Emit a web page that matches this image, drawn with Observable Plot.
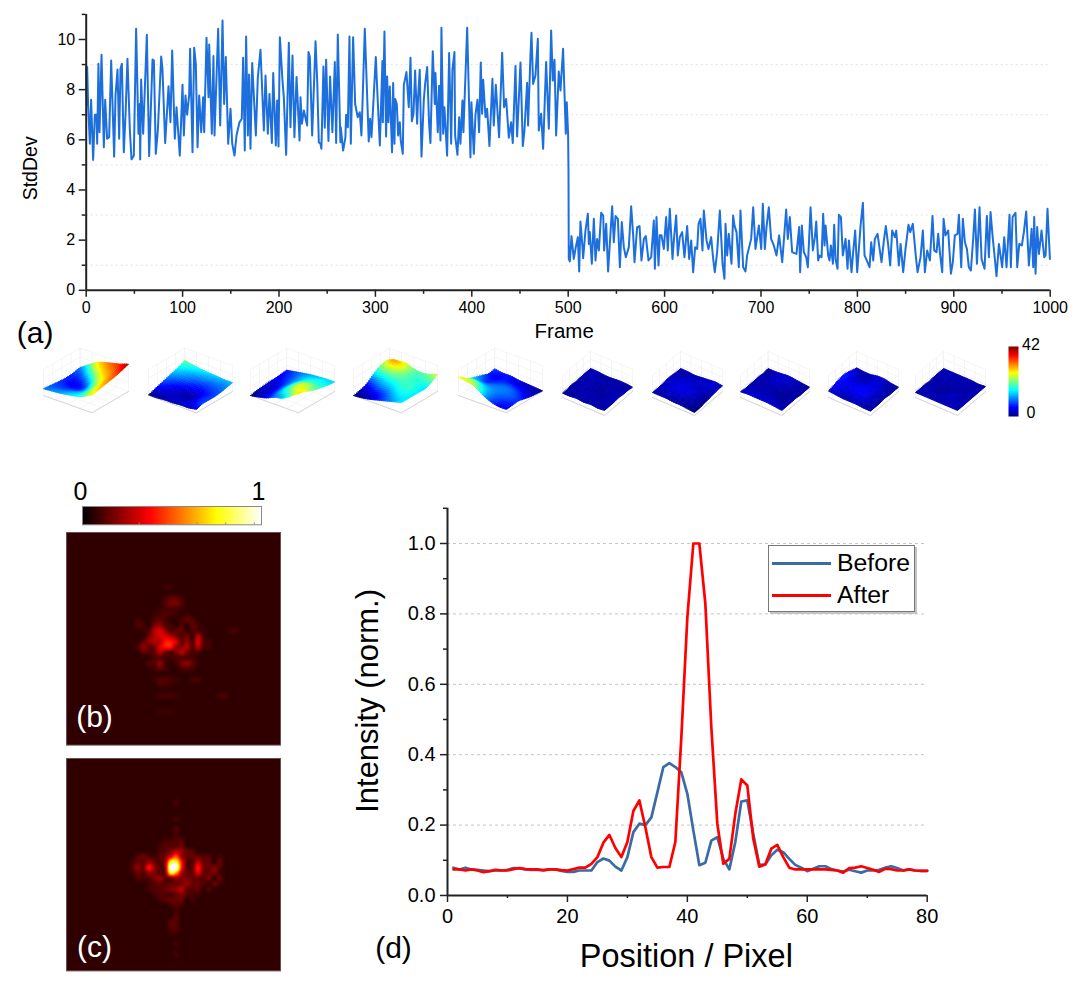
<!DOCTYPE html>
<html><head><meta charset="utf-8">
<script src="https://cdn.jsdelivr.net/npm/d3@7"></script>
<script src="https://cdn.jsdelivr.net/npm/@observablehq/plot@0.6"></script>
<style>
html,body{margin:0;padding:0;background:#fff;}
#page{position:relative;width:1080px;height:992px;overflow:hidden;font-family:"Liberation Sans",Arial,sans-serif;}
#page>svg,#page>div{position:absolute;}
svg{background:transparent !important;}
</style></head><body><div id="page"></div>
<script>
// ---------- panel (a): readings of the StdDev trace ----------
const frames = [0,0.7,1,2,3.8,5.1,7.2,9,10.7,11.4,12.7,13.8,15.9,18.3,19.7,21.7,23.8,25.9,29,30.4,32.5,34.2,35.6,37,39,40.8,42.8,45.3,47,49.4,51.8,54.2,55.6,56,57,59.1,62.9,65.3,66.7,68.8,70.2,72.2,74.3,77.8,79.1,81.9,85.4,87.4,89.2,91.9,93.7,97.1,99.9,101.3,103,104.7,106.8,107.8,110.3,112,113.7,115.5,117.2,119.3,121.3,122.4,124.8,126.9,127.6,130.3,132,133.1,136.9,139,141.4,143.1,144.8,147.3,149.7,151.4,153.8,155.9,159,161.4,162.8,164.5,165.9,167.7,169,170.4,172.2,176,178,180.8,184.3,186,188.4,190.1,192.6,194,196.7,198.1,199.5,200.9,203.6,205,207.4,210.2,211.9,214,216,218.2,221.3,222.3,223.7,225.8,229.2,230.6,232,234.4,237.9,239.6,241.3,
243,244,246.1,247.5,248.9,251.3,253,255.4,257.9,259.3,261,263.7,264.1,266.5,268.9,269.6,271.4,273.1,274.5,276.9,279,281.7,283.8,285.5,286.6,289,293.1,294.5,295.9,297.3,300.4,302.5,304.6,307.3,307.7,309.4,311.1,312.2,313.5,314.9,317.3,318.4,319.8,320.5,322.2,323.6,325.3,326.3,328.4,329.5,332.2,334.6,336.4,337.8,339.5,341.2,343.3,344.3,346,347.8,350.2,351.6,353.7,355.7,357.1,359.5,361.6,362.3,364.7,366.1,367.5,368.5,370.3,371.6,374.4,376.5,378.6,379.9,382,382.7,385.1,386.9,388.2,390.3,391.3,395.2,398.6,399.6,402.1,403.8,405.9,407.6,409.3,410.7,411.8,414.2,415.9,418.3,421.4,422.8,424.9,428.3,431.5,433.5,435.6,438.4,440.8,442.5,445.3,447,450.5,452.9,454.6,457.4,458.4,460.9,461.9,463.6,466,468.5,469.5,471.9,474,477.1,479.9,482.3,484,485.8,487.5,490.2,492,494.7,497.5,498.5,499.9,500.3,
500.6,501.7,503.4,505.8,507.9,510,511.4,512.7,514.8,515.5,517.9,520.4,521.4,522.4,524.5,526.6,528.3,530,531.8,534.2,536.3,537.3,539.4,541.4,545.6,547.3,549.1,551.5,553.6,555.6,557.7,559.8,562.9,565.3,567.4,568.8,571.5,574,576,578.5,580.5,583.3,586.1,588.8,589.9,591.6,593.7,595,596.8,599.2,601.6,603.3,605.4,608.2,609.6,612,613.7,615.8,618.2,620.6,623.4,625.5,627.6,629.6,631.7,633.8,635.2,637.2,639.3,640.7,643.5,645.5,648.3,650.4,652.1,654.5,657.3,660.1,662.1,663.2,664.9,666.6,669.4,671.1,672.5,674.6,677,678.7,681.5,683.9,685.6,689.8,691.9,694.3,697.8,700.2,701.9,704,705.7,708.1,710.5,713.3,716.1,718.8,722,723.7,726.1,727.8,729.9,732.3,736.8,739.6,740.6,742.4,744.4,746.9,748.6,
751.4,753.8,755.9,757.3,759.3,760.7,762.8,764.5,765.9,767,769.7,771.1,772.5,774.6,775.9,777.3,779.4,780.8,782.9,784.9,787.7,789.8,791.2,793.9,795.6,797.7,799.8,803.3,805.7,807.4,810.5,812.6,814.3,816.4,818.1,820.9,825,827.5,829.5,832,834,836.1,838.9,840.3,843,844.8,847.5,849.9,853,854.8,857.5,860.7,862.4,865.5,867.9,870,872.4,875.2,877.9,879.7,882.1,883.8,885.9,888,889.4,891.4,894.2,897,899,901.1,903.9,905.3,907.7,909.4,911.5,913.6,915.6,917.7,920.1,921.9,924,926.7,928.8,931.9,934.3,936.4,938.1,940.5,941.9,944.3,946.8,950.2,952.3,954.7,957.8,959.2,961,964,965.8,967.9,970.6,972.7,975.1,977.9,980.7,982.4,983.4,984.8,986.5,988.3,991,993.8,995.2,997.2,999.7];
const stdDev = [8.9,7.4,8.9,7.4,5.84,7.6,5.2,7.0,7.0,5.84,9.03,6.3,9.39,5.7,7.6,6.04,6.1,9.16,5.33,7.77,8.8,6.04,8.83,9.03,5.5,7.0,9.23,6.37,5.22,5.37,10.43,6.24,7.43,5.22,8.4,6.24,10.19,5.35,6.84,9.2,9.16,5.44,6.37,9.32,8.83,5.87,8.14,6.7,9.56,6.04,7.3,5.37,8.2,6.17,7.77,7.0,7.77,9.63,5.5,9.67,9.03,5.7,7.77,6.3,7.7,6.3,10.07,7.7,9.8,6.24,9.34,6.17,10.43,6.57,10.76,7.43,9.3,5.84,7.24,5.87,5.37,6.17,6.7,6.84,9.27,5.57,10.12,6.17,8.6,5.64,9.06,6.17,8.47,9.59,6.37,8.56,6.24,7.83,5.87,8.66,5.77,7.57,5.73,10.09,8.37,7.7,5.4,9.87,6.5,9.36,6.1,8.5,5.97,7.7,6.64,7.17,6.57,9.5,9.3,6.17,9.93,8.37,5.9,
5.84,5.64,8.92,6.48,9.19,5.95,8.52,6.3,9.1,5.87,10.2,5.9,6.5,5.57,6.1,7.0,6.5,10.12,5.84,10.09,7.43,6.9,7.1,6.17,7.43,10.43,5.93,6.84,6.1,7.04,9.3,7.5,5.77,9.14,6.7,10.32,6.13,8.52,6.7,8.13,5.5,8.26,5.84,7.63,7.43,6.17,6.7,5.97,5.44,8.19,8.7,7.3,9.27,6.74,7.04,8.76,6.64,7.7,8.79,5.33,7.57,8.23,8.9,6.64,5.87,9.53,7.43,8.66,6.3,8.16,5.97,10.47,6.24,7.3,5.37,9.46,5.84,8.79,9.5,6.17,5.4,6.9,5.84,7.57,6.3,10.47,5.3,7.5,5.44,7.0,7.6,6.3,9.08,7.04,8.39,6.9,7.24,5.75,8.43,6.57,8.2,6.1,9.47,7.3,7.63,6.08,6.7,5.87,8.94,6.13,9.08,5.75,6.37,8.27,6.57,9.43,10.27,8.23,8.56,10.03,6.37,7.04,5.64,9.1,6.44,10.36,8.36,9.19,6.17,8.72,7.97,9.63,6.24,7.5,6.24,4.77,
1.25,1.15,2.16,1.25,1.72,2.12,0.75,2.74,1.72,1.28,2.38,3.05,1.85,2.32,1.06,2.85,1.19,2.05,1.59,3.09,2.98,1.59,2.65,0.75,3.35,1.92,2.96,2.85,0.92,2.72,1.72,1.32,1.72,3.35,2.19,1.12,2.52,2.56,1.19,2.05,2.16,1.19,1.32,2.78,0.86,2.92,0.99,2.19,2.19,1.65,2.92,1.59,3.25,1.25,1.99,2.98,1.39,2.12,2.32,1.32,2.56,1.25,1.99,0.72,1.72,1.65,2.65,2.85,1.59,3.18,1.99,1.65,2.12,1.25,0.72,1.52,3.18,1.06,0.46,2.65,1.39,2.25,1.06,2.98,2.58,2.32,0.92,3.18,0.92,0.75,1.39,2.05,3.31,1.65,2.58,1.65,3.45,1.65,2.52,3.31,2.05,1.79,1.39,2.19,1.12,1.99,3.22,2.05,2.92,1.52,1.45,2.52,0.72,2.58,1.52,1.32,0.92,
3.31,1.59,2.12,2.74,1.19,1.39,1.32,3.05,1.79,2.58,1.39,1.19,1.79,1.06,2.61,1.25,0.86,3.01,2.92,1.39,2.05,0.86,1.99,0.72,1.52,2.38,0.72,2.58,3.49,1.39,1.12,0.92,1.92,1.19,2.05,2.25,1.12,1.99,2.56,1.79,0.99,2.38,2.12,2.38,0.99,1.85,0.72,1.65,2.61,2.32,2.65,1.32,0.72,1.32,2.38,0.72,1.59,1.19,2.96,1.59,1.52,2.25,1.39,0.72,2.85,2.19,2.38,0.66,1.12,2.19,2.25,3.01,0.92,2.85,1.92,1.65,0.92,0.79,2.05,3.22,1.06,3.31,1.25,0.86,2.96,1.32,3.12,2.05,1.52,0.56,1.85,0.92,2.12,0.92,3.01,0.92,2.92,3.09,0.92,1.85,1.79,2.32,3.14,0.99,2.45,0.92,2.92,0.66,2.52,1.45,2.38,1.32,1.39,3.25,1.25];
const aMajorX = [0,100,200,300,400,500,600,700,800,900,1000];
const aMinorX = [50,150,250,350,450,550,650,750,850,950];
const aMajorY = [0,2,4,6,8,10];
const aMinorY = [1,3,5,7,9,11];
const aGrid = [1,3,5,7,9];

// ---------- panel (d): line profiles, positions 1..80 ----------
const position = d3.range(1,81);
const before = [.079,.074,.079,.074,.073,.071,.069,.071,.071,.073,.078,.077,.074,.073,.073,.073,.074,.074,.07,.067,.067,.071,.071,.071,.095,.105,.099,.082,.071,.109,.18,.204,.2,.222,.293,.365,.376,.365,.35,.289,.185,.086,.093,.156,.166,.104,.074,.152,.267,.27,.175,.087,.088,.114,.13,.123,.104,.087,.079,.069,.076,.083,.083,.075,.071,.068,.073,.069,.065,.071,.071,.073,.079,.083,.078,.071,.074,.071,.07,.07];
const after = [.074,.074,.071,.074,.071,.066,.069,.073,.071,.071,.075,.078,.075,.074,.074,.071,.074,.074,.072,.071,.075,.079,.079,.09,.109,.15,.172,.135,.109,.152,.24,.27,.194,.109,.079,.081,.081,.152,.45,.79,1,1,.83,.478,.204,.09,.104,.232,.33,.3125,.161,.082,.088,.133,.144,.109,.079,.074,.074,.074,.074,.074,.074,.073,.071,.065,.078,.079,.083,.078,.073,.067,.076,.075,.071,.071,.074,.071,.07,.07];
const dMajorX = [0,20,40,60,80];
const dMinorX = [10,30,50,70];
const dMajorY = [0,.2,.4,.6,.8,1];
const dMinorY = [.1,.3,.5,.7,.9,1.1];

// ---------- panels (b),(c): intensity maps, one char per cell of a 40x40 grid ----------
const heatLevels = {".":.07,"1":.1,"2":.125,"3":.15,"4":.18,"5":.22,"6":.27,"7":.33,"8":.4,"9":.5,"a":.62,"b":.78,"c":1};
const levelsB = {".":.07,"1":.09,"2":.105,"3":.12,"4":.14,"5":.17,"6":.21,"7":.26,"8":.32,"9":.4};
const mapB = {
10:"..................11",
12:"..................2442",
13:"..................3553",
14:".................12221",
15:"................12321.1",
16:".............2..342..243",
17:".............32.5632.3.42",
18:"..............13786344.321....22",
19:"...............57887535.72",
20:"..............4677998463832",
21:".............36458996673722",
22:"..............43475357523",
23:"................33122322",
24:"...............3362.25641",
25:"................242..232",
27:"................13321..22",
28:".................221",
30:".................2221.......22",
33:".................111"};
const mapC = {
8:"....................1",
11:"....................1",
13:"....................2",
14:"....................1",
15:"..................1122",
16:".................12223",
17:".................1246532",
18:".............23212479533322.1",
19:"............1325325bb822633.3",
20:"............2538525cc82384342",
21:"............1325424ba63373341",
22:".............21245235443324.3",
23:"...............12323345332.31",
24:"...............1223456323.2",
25:"................122134211",
26:".................12333.1",
27:"...................121",
28:"....................1",
29:"....................2",
30:"...................22",
31:"...................22",
32:"...................11",
34:"....................1",
36:"....................1"};
const hotStops = [0,.375,.75,1];
const hotColors = ["#000000","#ff0000","#ffff00","#ffffff"];
const barMarks = [.317,.478,.64,.8,.96];

// ---------- panel (a) insets: wavefront heights on 7x7 tables (0..42) ----------
const jet = ["#00007f","#0000ff","#007fff","#00ffff","#7fff7f","#ffff00","#ff7f00","#ff0000","#7f0000"];
const surf1 = [[10,9,8,7,7,8,10],[11,9,7,5,6,10,18],[12,10,7,5,9,19,26],[14,12,9,9,18,26,30],[16,15,15,20,26,30,33],[20,22,24,27,30,33,36],[26,28,30,32,34,37,40]];
const surf2 = [[1,4,7,10,13,16,20],[1,3,5,7,11,14,18],[2,3,3,5,9,12,16],[2,3,2,4,7,11,15],[3,3,2,4,7,10,14],[3,5,6,6,8,10,13],[5,8,8,8,9,11,13]];
const surf3 = [[0,2,3,4,4,5,6],[2,3,3,4,6,7,8],[5,6,7,8,9,10,10],[10,13,14,14,13,13,12],[13,19,21,20,17,15,13],[20,25,25,22,18,16,14],[28,26,22,19,17,15,14]];
const surf4 = [[0,2,5,12,19,22,22],[1,3,8,14,22,30,24],[3,5,11,16,22,28,25],[6,8,13,17,20,21,21],[9,12,16,18,18,18,19],[12,15,17,18,17,18,21],[15,15,15,15,15,19,25]];
const surf5 = [[27,20,15,12,9,6,8],[25,22,14,8,6,5,6],[22,17,12,9,7,6,6],[14,12,11,10,8,5,4],[8,9,10,10,7,4,3],[5,7,9,8,5,3,2],[5,6,7,5,3,2,1]];
const surf6 = [[2,2,3,2,3,3,3],[2,2,3,3,3,4,3],[3,3,3,3,3,3,2],[2,3,3,2,2,3,2],[3,3,2,2,3,3,3],[2,3,3,3,3,2,3],[3,3,3,4,3,3,2]];
const surf7 = [[3,3,3,4,4,3,3],[3,4,5,5,4,3,3],[3,4,6,6,5,4,2],[2,4,6,6,5,4,3],[2,3,5,5,4,5,4],[1,2,3,3,4,5,5],[0,0,1,2,3,4,4]];
const surf8 = [[4,3,3,3,3,2,3],[5,4,3,3,3,3,3],[5,4,3,3,4,5,4],[5,4,3,3,4,5,5],[5,4,2,2,3,4,4],[4,3,2,2,2,3,3],[3,3,3,3,2,2,2]];
const surf9 = [[5,7,9,10,9,6,4],[4,6,7,7,5,4,3],[3,5,7,6,4,3,3],[3,6,8,7,5,5,5],[3,6,7,7,6,5,5],[2,4,4,4,4,3,3],[2,2,2,3,2,2,2]];
const surf10 = [[3,3,3,2,3,3,3],[3,3,3,3,3,4,3],[3,3,2,2,3,3,3],[3,3,3,2,3,3,3],[3,4,4,3,2,3,3],[3,4,3,3,3,3,2],[3,3,3,3,3,3,3]];
const insets = [
  {t:surf1,left:43,w:85,big:true},{t:surf2,left:148,w:84,big:true},{t:surf3,left:250,w:84,big:true},
  {t:surf4,left:353,w:84,big:true},{t:surf5,left:458,w:84,big:true},
  {t:surf6,left:562,w:70},{t:surf7,left:652,w:70},{t:surf8,left:740,w:69},{t:surf9,left:828,w:70},{t:surf10,left:915,w:70}];

// ---------- helpers ----------
const FONT = '"Liberation Sans",Arial,sans-serif';
const INK = "#222";
const page = document.getElementById("page");
function place(el,left,top){el.style.position="absolute";el.style.left=left+"px";el.style.top=top+"px";page.appendChild(el);return el;}
const base = {style:{fontFamily:FONT,background:"transparent",overflow:"visible"}};

// ---------- panel (a) ----------
place(Plot.plot({...base,width:1080,height:345,marginLeft:85.7,marginRight:30.3,marginTop:13.9,marginBottom:55.2,
  x:{domain:[0,1000]},y:{domain:[0,11]},
  marks:[
    Plot.ruleY(aGrid,{stroke:"#dcdcdc",strokeDasharray:"2 3",strokeWidth:.8}),
    Plot.line(frames.map((f,i)=>({f,v:stdDev[i]})),{x:"f",y:"v",stroke:"#1c6fdc",strokeWidth:2}),
    Plot.axisX({ticks:aMinorX,tickSize:4,text:null,label:null,stroke:INK,strokeWidth:1.5}),
    Plot.axisX({ticks:aMajorX,tickSize:7,tickPadding:4,label:null,fontSize:16,tickFormat:"d",stroke:INK,fill:"#000",strokeWidth:1.5}),
    Plot.axisY({ticks:aMinorY,tickSize:4,text:null,label:null,stroke:INK,strokeWidth:1.5}),
    Plot.axisY({ticks:aMajorY,tickSize:7,tickPadding:4,label:null,fontSize:16,tickFormat:"d",stroke:INK,fill:"#000",strokeWidth:1.5}),
    Plot.ruleX([0],{stroke:INK,strokeWidth:2}),
    Plot.ruleY([0],{stroke:INK,strokeWidth:2}),
    Plot.text(["StdDev"],{frameAnchor:"left",dx:-55,dy:16,rotate:-90,textAnchor:"middle",fontSize:19.5,fill:"#000"}),
    Plot.text(["Frame"],{frameAnchor:"bottom",dx:-4,dy:48,fontSize:20.5,fill:"#000"}),
    Plot.text(["(a)"],{frameAnchor:"bottom-left",dx:-51,dy:53,fontSize:30,fill:"#000",textAnchor:"middle"})
  ]}),0,0);

// ---------- surface insets ----------
function catmull(a,b,c,d,t){return .5*((2*b)+(-a+c)*t+(2*a-5*b+4*c-d)*t*t+(-a+3*b-3*c+d)*t*t*t);}
function sample(tb,u,v){
  const n=tb.length-1, U=Math.min(u*n,n-1e-6), V=Math.min(v*n,n-1e-6), ui=Math.floor(U), vi=Math.floor(V), cl=i=>Math.max(0,Math.min(n,i));
  const col=[];
  for(let k=-1;k<=2;k++){const r=tb[cl(ui+k)];col.push(catmull(r[cl(vi-1)],r[vi],r[cl(vi+1)],r[cl(vi+2)],V-vi));}
  return catmull(col[0],col[1],col[2],col[3],U-ui);
}
const SUB=24;
insets.forEach(ins=>{
  const g = ins.big ? {bx:.57,tx:.43,by:17.3,ty:-21.3,y0:60,lift:0,wall:26,tint:1} : {bx:.6,tx:.4,by:18,ty:-24,y0:62,lift:3,wall:22,tint:.65};
  const kz=.68;
  const proj=(u,v,z)=>({x:u*g.bx+v*g.tx,y:g.y0+u*g.by+v*g.ty-z*kz-g.lift});
  const cells=[];
  for(let a=0;a<SUB;a++)for(let b=0;b<SUB;b++)cells.push([a,b]);
  cells.sort((p,q)=>(p[0]*g.by+p[1]*g.ty)-(q[0]*g.by+q[1]*g.ty));
  const quads=[];
  cells.forEach(([a,b],q)=>{
    const pts=[[a,b],[a+1,b],[a+1,b+1],[a,b+1]].map(([i,j])=>{const u=i/SUB,v=j/SUB;const z=sample(ins.t,u,v);return {...proj(u,v,z),z};});
    const val=d3.mean(pts,d=>d.z)*g.tint;
    pts.forEach(p=>quads.push({q,x:p.x,y:p.y,val:Math.max(0,val)}));
  });
  const fl=(u,v,h=0)=>({x:u*g.bx+v*g.tx,y:g.y0+u*g.by+v*g.ty-h});
  const segs=[];let s=0;
  const seg=(a,b)=>{segs.push({s,...a});segs.push({s,...b});s++;};
  [0,.25,.5,.75,1].forEach(f=>{
    seg(fl(0,f),fl(0,f,g.wall));
    seg(fl(f,1),fl(f,1,g.wall));
    seg(fl(f,0),fl(f,1));
    seg(fl(0,f),fl(1,f));
  });
  [.33,.66,1].forEach(h=>{seg(fl(0,0,g.wall*h),fl(0,1,g.wall*h));seg(fl(0,1,g.wall*h),fl(1,1,g.wall*h));});
  const edges=[{s:0,...fl(0,0)},{s:0,...fl(1,0)},{s:0,...fl(1,1)}];
  const plot=Plot.plot({...base,width:ins.w,height:90,margin:0,
    x:{domain:[0,1],range:[0,ins.w],axis:null},
    y:{domain:[0,90],range:[0,90],axis:null},
    color:{type:"linear",domain:d3.range(9).map(i=>i*42/8),range:jet},
    marks:[
      Plot.line(segs,{x:"x",y:"y",z:"s",stroke:"#f0f0f0",strokeWidth:.7}),
      Plot.line(edges,{x:"x",y:"y",stroke:"#d6d6d6",strokeWidth:1}),
      Plot.line(quads,{x:"x",y:"y",z:"q",fill:"val",stroke:"val",strokeWidth:.9})
    ]});
  place(plot,ins.left,335);
});

// jet colour bar
place(Plot.plot({...base,width:40,height:70,marginLeft:0,marginRight:30,marginTop:0,marginBottom:0,
  x:{domain:[0,1],axis:null},y:{domain:[0,42],axis:null,reverse:true},
  color:{type:"linear",domain:d3.range(9).map(i=>i*42/8),range:jet},
  marks:[
    Plot.raster(d3.range(128).map(i=>i/127*42),{width:1,height:128,x1:0,x2:1,y1:42,y2:0,fill:d=>d,imageRendering:"auto"}),
    Plot.text([42],{frameAnchor:"top-right",dx:12.5,dy:-8,fontSize:16,fill:"#000",textAnchor:"middle",text:d=>d}),
    Plot.text([0],{frameAnchor:"bottom-right",dx:12.5,dy:1,fontSize:16,fill:"#000",textAnchor:"middle",text:d=>d})
  ]}),1007.5,345.7);

// ---------- hot colour bar ----------
place(Plot.plot({...base,width:179,height:18.3,margin:0,
  x:{domain:[0,1],axis:null},y:{domain:[0,1],axis:null},
  color:{type:"linear",domain:hotStops,range:hotColors},
  marks:[
    Plot.raster(d3.range(256).map(i=>i/255),{width:256,height:1,x1:0,x2:1,y1:0,y2:1,fill:d=>d}),
    Plot.ruleX(barMarks,{y1:0,y2:.1,stroke:"#888",strokeWidth:1}),
    Plot.frame({stroke:"#888",strokeWidth:1}),
    Plot.text(["0"],{frameAnchor:"top-left",dy:-24,dx:-2,fontSize:25,fill:"#000",textAnchor:"middle"}),
    Plot.text(["1"],{frameAnchor:"top-right",dy:-24,dx:-3,fontSize:25,fill:"#000",textAnchor:"middle"})
  ]}),82.3,506);

// ---------- heat maps ----------
const FINE=160;
function smooth(map,levels){
  const tb=d3.range(40).map(r=>d3.range(40).map(c=>levels[(map[r]||"")[c]||"."]));
  const out=[];
  for(let r=0;r<FINE;r++)for(let c=0;c<FINE;c++)out.push(Math.max(.06,Math.min(1,sample(tb,r/(FINE-1),c/(FINE-1)))));
  return out;
}
function heat(map,levels,tag,top,h,dy){
  return place(Plot.plot({...base,width:214,height:h,margin:0,
    x:{domain:[0,FINE],axis:null},y:{domain:[0,FINE],axis:null,reverse:true},
    color:{type:"linear",domain:hotStops,range:hotColors},
    marks:[
      Plot.raster(smooth(map,levels),{width:FINE,height:FINE,x1:0,y1:0,x2:FINE,y2:FINE,fill:d=>d,imageRendering:"auto"}),
      Plot.frame({stroke:"#6e5050",strokeWidth:1}),
      Plot.text([tag],{frameAnchor:"bottom-left",dx:28,dy,fontSize:30,fill:"#fff",textAnchor:"middle"})
    ]}),66,top);
}
heat(mapB,levelsB,"(b)",531.7,212.6,-18);
heat(mapC,heatLevels,"(c)",758.3,212.4,-14);

// ---------- panel (d) ----------
place(Plot.plot({...base,width:494.7,height:490,marginLeft:15,marginRight:0,marginTop:5.8,marginBottom:97,
  x:{domain:[0,80],range:[15,494.7]},y:{domain:[0,1.1]},
  marks:[
    Plot.ruleY([.2,.4,.6,.8,1],{stroke:"#c4c4c4",strokeDasharray:"3 3",strokeWidth:1}),
    Plot.line(position.map((p,i)=>({p,v:before[i]})),{x:"p",y:"v",stroke:"#3a6ba5",strokeWidth:2.7}),
    Plot.line(position.map((p,i)=>({p,v:after[i]})),{x:"p",y:"v",stroke:"#ff0000",strokeWidth:2.7}),
    Plot.axisX({ticks:dMinorX,tickSize:3,text:null,label:null,stroke:INK,strokeWidth:1.5}),
    Plot.axisX({ticks:dMajorX,tickSize:7,tickPadding:6,label:null,fontSize:20,tickFormat:"d",stroke:INK,fill:"#000",strokeWidth:1.5}),
    Plot.axisY({ticks:dMinorY,tickSize:4,text:null,label:null,stroke:INK,strokeWidth:1.5}),
    Plot.axisY({ticks:dMajorY,tickSize:7,tickPadding:5,label:null,fontSize:20,tickFormat:".1f",stroke:INK,fill:"#000",strokeWidth:1.5}),
    Plot.ruleX([0],{stroke:INK,strokeWidth:2}),
    Plot.ruleY([0],{stroke:INK,strokeWidth:2}),
    Plot.text(["Position / Pixel"],{frameAnchor:"bottom",dx:-1,dy:72,fontSize:32.5,fill:"#000"}),
    Plot.text(["(d)"],{frameAnchor:"bottom-left",dx:-54,dy:63,fontSize:30,fill:"#000",textAnchor:"middle"}),
    Plot.text(["Intensity (norm.)"],{frameAnchor:"left",dx:-79,dy:-1,rotate:-90,textAnchor:"middle",fontSize:31,fill:"#000"})
  ]}),432,502);

// legend
const legend=document.createElement("div");
legend.style.cssText='width:145px;height:65px;background:#fff;border:1px solid #777;box-shadow:2px 2px 0 #c4c4c4;font:24.8px '+FONT+';color:#000;';
[["Before","#3a6ba5",17],["After","#ff0000",49]].forEach(([t,c,y])=>{
  const l=document.createElement("div");l.style.cssText=`position:absolute;left:3px;top:${y-1}px;width:59px;height:2.7px;background:${c};`;legend.appendChild(l);
  const s=document.createElement("div");s.textContent=t;s.style.cssText=`position:absolute;left:68px;top:${y-14}px;line-height:28px;`;legend.appendChild(s);
});
place(legend,768,545);
</script></body></html>
